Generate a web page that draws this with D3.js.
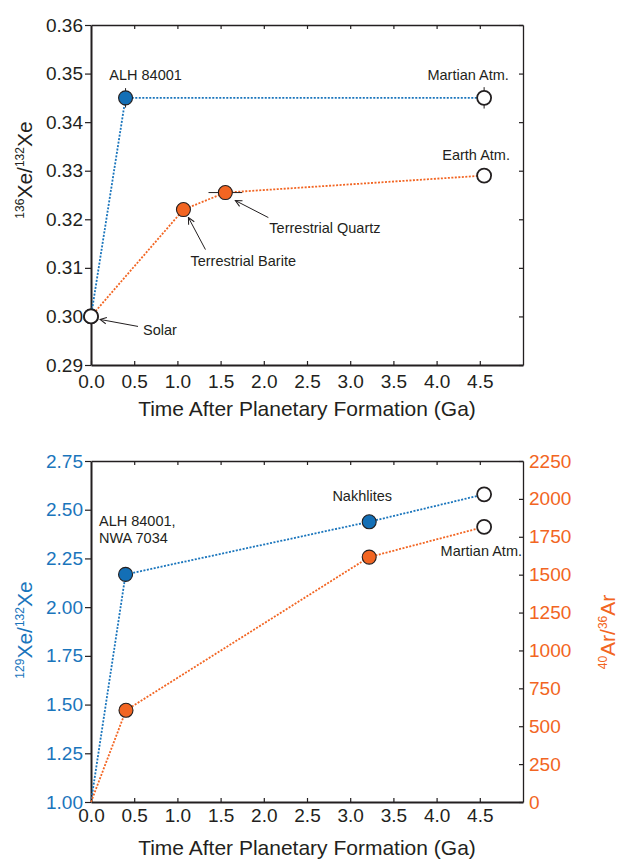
<!DOCTYPE html>
<html>
<head>
<meta charset="utf-8">
<script src="https://cdn.jsdelivr.net/npm/d3@7"></script>
<style>
body { margin: 0; background: #fff; }
svg text { font-family: Arial, "Liberation Sans", Helvetica, sans-serif; }
</style>
</head>
<body>
<svg id="chart" width="619" height="859"></svg>
<script>
// ---- data ----
var timeTicks = [0, 0.5, 1, 1.5, 2, 2.5, 3, 3.5, 4, 4.5];
var xe136Ticks = [0.29, 0.30, 0.31, 0.32, 0.33, 0.34, 0.35, 0.36];
var xe129Ticks = [1.00, 1.25, 1.50, 1.75, 2.00, 2.25, 2.50, 2.75];
var arTicks = [0, 250, 500, 750, 1000, 1250, 1500, 1750, 2000, 2250];

// top panel, Mars line (Solar -> ALH 84001 -> Martian Atm.)
var marsTime = [0, 0.4, 4.55];
var marsXe136 = [0.300, 0.345, 0.345];
var marsXe136Err = [0, 0.002, 0.0022];
var marsKind = ["open", "filled", "open"];

// top panel, Earth line (Solar -> Barite -> Quartz -> Earth Atm.)
var earthTime = [0, 1.07, 1.555, 4.55];
var earthXe136 = [0.300, 0.322, 0.3255, 0.329];
var earthTimeErr = [0, 0, 0.195, 0];
var earthKind = ["open", "filled", "filled", "open"];

// bottom panel
var xeTime = [0, 0.4, 3.22, 4.55];
var xe129 = [1.00, 2.168, 2.438, 2.579];
var arTime = [0, 0.405, 3.22, 4.55];
var ar4036 = [0, 605, 1616, 1815];
var bottomKind = ["none", "filled", "filled", "open"];

var blue = "#1a75bc", orange = "#f26522";
var blueDot = "#136fb6", orangeDot = "#f26522";
var ink = "#231f20";
var tickFont = 19;

var svg = d3.select("#chart");

var defs = svg.append("defs");
defs.append("marker")
    .attr("id", "arrow")
    .attr("viewBox", "0 0 10 10")
    .attr("refX", 9).attr("refY", 5)
    .attr("markerWidth", 8).attr("markerHeight", 8)
    .attr("markerUnits", "userSpaceOnUse")
    .attr("orient", "auto")
    .append("path")
    .attr("d", "M1,1 L9,5 L1,9")
    .attr("fill", "none")
    .attr("stroke", ink)
    .attr("stroke-width", 1.3);

function styleAxis(g, color, size) {
    g.attr("font-size", size).attr("font-family", null);
    g.selectAll("text").attr("fill", color);
    g.selectAll("line").attr("stroke", ink).attr("stroke-width", 1.2);
    g.select(".domain").attr("stroke", ink);
}

function frame(x, y, top, bottom) {
    svg.append("g")
        .attr("transform", "translate(0," + top + ")")
        .call(d3.axisTop(x).tickValues(timeTicks.slice(1)).tickFormat("").tickSizeInner(-4).tickSizeOuter(0))
        .call(g => styleAxis(g, ink, tickFont))
        .select(".domain").attr("stroke-width", 1.3);
    svg.append("g")
        .attr("transform", "translate(0," + bottom + ")")
        .call(d3.axisBottom(x).tickValues(timeTicks).tickFormat(d3.format(".1f")).tickSizeInner(-4).tickSizeOuter(0).tickPadding(bottom > 500 ? 7 : 10))
        .call(g => styleAxis(g, ink, tickFont))
        .select(".domain").attr("stroke-width", 2);
}

function dotted(pts, x, y, color) {
    svg.append("path")
        .datum(pts)
        .attr("d", d3.line().x(d => x(d[0])).y(d => y(d[1])))
        .attr("fill", "none")
        .attr("stroke", color)
        .attr("stroke-width", 1.8)
        .attr("stroke-dasharray", "2,1.5");
}

function dots(pts, x, y, fill) {
    svg.append("g").selectAll("circle")
        .data(pts.filter(d => d[2] != "none"))
        .enter().append("circle")
        .attr("cx", d => x(d[0]))
        .attr("cy", d => y(d[1]))
        .attr("r", 7)
        .attr("fill", d => d[2] == "open" ? "#fff" : fill)
        .attr("stroke", ink)
        .attr("stroke-width", d => d[2] == "open" ? 1.8 : 1.1);
}

function label(txt, px, py, anchor, size) {
    svg.append("text")
        .attr("x", px).attr("y", py)
        .attr("text-anchor", anchor || "start")
        .attr("font-size", size || 14.5)
        .attr("fill", ink)
        .text(txt);
}

function arrow(x1, y1, x2, y2) {
    svg.append("line")
        .attr("x1", x1).attr("y1", y1).attr("x2", x2).attr("y2", y2)
        .attr("stroke", ink).attr("stroke-width", 1)
        .attr("marker-end", "url(#arrow)");
}

function ratioTitle(cx, cy, parts, color, size) {
    var t = svg.append("text")
        .attr("transform", "translate(" + cx + "," + cy + ") rotate(-90)")
        .attr("text-anchor", "middle")
        .attr("fill", color)
        .attr("font-size", size);
    var up = false;
    parts.forEach(p => {
        var s = t.append("tspan").text(p[0]);
        if (p[1]) { s.attr("font-size", 12).attr("dy", up ? 0 : -8); up = true; }
        else { s.attr("dy", up ? 8 : 0); up = false; }
    });
}

// ================= top panel =================
var x1 = d3.scaleLinear().domain([0, 5]).range([91, 523]);
var y1 = d3.scaleLinear().domain([0.29, 0.36]).range([365, 25]);

frame(x1, y1, 25, 365);
svg.append("g")
    .attr("transform", "translate(91,0)")
    .call(d3.axisLeft(y1).tickValues(xe136Ticks).tickFormat(d3.format(".2f")).tickSize(6).tickPadding(2).tickSizeOuter(0))
    .call(g => styleAxis(g, ink, tickFont))
    .select(".domain").attr("stroke-width", 2);
svg.append("g")
    .attr("transform", "translate(523,0)")
    .call(d3.axisRight(y1).tickValues(xe136Ticks).tickFormat("").tickSizeInner(-4).tickSizeOuter(0))
    .call(g => styleAxis(g, ink, tickFont))
    .select(".domain").attr("stroke-width", 1.3);

var marsPts = marsTime.map((t, i) => [t, marsXe136[i], marsKind[i]]);
var earthPts = earthTime.map((t, i) => [t, earthXe136[i], earthKind[i]]);

dotted(marsPts, x1, y1, blue);
dotted(earthPts, x1, y1, orange);

// error bars
marsPts.forEach((d, i) => {
    if (!marsXe136Err[i]) return;
    svg.append("line")
        .attr("x1", x1(d[0])).attr("x2", x1(d[0]))
        .attr("y1", y1(d[1] - marsXe136Err[i])).attr("y2", y1(d[1] + marsXe136Err[i]))
        .attr("stroke", ink).attr("stroke-width", 1);
});
earthPts.forEach((d, i) => {
    if (!earthTimeErr[i]) return;
    svg.append("line")
        .attr("x1", x1(d[0] - earthTimeErr[i])).attr("x2", x1(d[0] + earthTimeErr[i]))
        .attr("y1", y1(d[1])).attr("y2", y1(d[1]))
        .attr("stroke", ink).attr("stroke-width", 1);
});

dots(earthPts, x1, y1, orangeDot);
dots(marsPts, x1, y1, blueDot);

label("ALH 84001", x1(marsTime[1]) + 20, y1(marsXe136[1]) - 18, "middle");
label("Martian Atm.", x1(marsTime[2]) - 16, y1(marsXe136[2]) - 18, "middle");
label("Earth Atm.", x1(earthTime[3]) - 8, y1(earthXe136[3]) - 16, "middle");
label("Terrestrial Barite", x1(earthTime[1]) + 7, y1(earthXe136[1]) + 56);
label("Terrestrial Quartz", x1(earthTime[2]) + 44, y1(earthXe136[2]) + 40);
label("Solar", x1(0) + 52, y1(0.300) + 19);
arrow(x1(0) + 47, y1(0.300) + 10, x1(0) + 9, y1(0.300) + 3);
arrow(x1(earthTime[1]) + 22, y1(earthXe136[1]) + 40, x1(earthTime[1]) + 5, y1(earthXe136[1]) + 8);
arrow(x1(earthTime[2]) + 43, y1(earthXe136[2]) + 25, x1(earthTime[2]) + 10, y1(earthXe136[2]) + 8);

svg.append("text")
    .attr("x", 307).attr("y", 416)
    .attr("text-anchor", "middle")
    .attr("font-size", 21)
    .attr("fill", ink)
    .text("Time After Planetary Formation (Ga)");
ratioTitle(32, 170, [["136", true], ["Xe/", false], ["132", true], ["Xe", false]], ink, 21);

// ================= bottom panel =================
var x2 = d3.scaleLinear().domain([0, 5]).range([91, 523]);
var y2 = d3.scaleLinear().domain([1.00, 2.75]).range([802, 461]);
var y2r = d3.scaleLinear().domain([0, 2250]).range([802, 461]);

frame(x2, y2, 461, 802);
svg.append("g")
    .attr("transform", "translate(91,0)")
    .call(d3.axisLeft(y2).tickValues(xe129Ticks).tickFormat(d3.format(".2f")).tickSize(6).tickPadding(2).tickSizeOuter(0))
    .call(g => styleAxis(g, blue, tickFont))
    .select(".domain").attr("stroke-width", 2);
svg.append("g")
    .attr("transform", "translate(523,0)")
    .call(d3.axisRight(y2r).tickValues(arTicks).tickFormat(d3.format("d")).tickSizeInner(-4).tickSizeOuter(0).tickPadding(6))
    .call(g => styleAxis(g, orange, tickFont))
    .select(".domain").attr("stroke-width", 1.3);

var xePts = xeTime.map((t, i) => [t, xe129[i], bottomKind[i]]);
var arPts = arTime.map((t, i) => [t, ar4036[i], bottomKind[i]]);

dotted(xePts, x2, y2, blue);
dotted(arPts, x2, y2r, orange);
dots(xePts, x2, y2, blueDot);
dots(arPts, x2, y2r, orangeDot);

label("ALH 84001,", 99, 526);
label("NWA 7034", 99, 543);
label("Nakhlites", x2(xeTime[2]) - 7, y2(xe129[2]) - 21, "middle");
label("Martian Atm.", 522, 556, "end");

svg.append("text")
    .attr("x", 307).attr("y", 855)
    .attr("text-anchor", "middle")
    .attr("font-size", 21)
    .attr("fill", ink)
    .text("Time After Planetary Formation (Ga)");
ratioTitle(32, 630, [["129", true], ["Xe/", false], ["132", true], ["Xe", false]], blue, 21);
ratioTitle(615, 632, [["40", true], ["Ar/", false], ["36", true], ["Ar", false]], orange, 21);
</script>
</body>
</html>
